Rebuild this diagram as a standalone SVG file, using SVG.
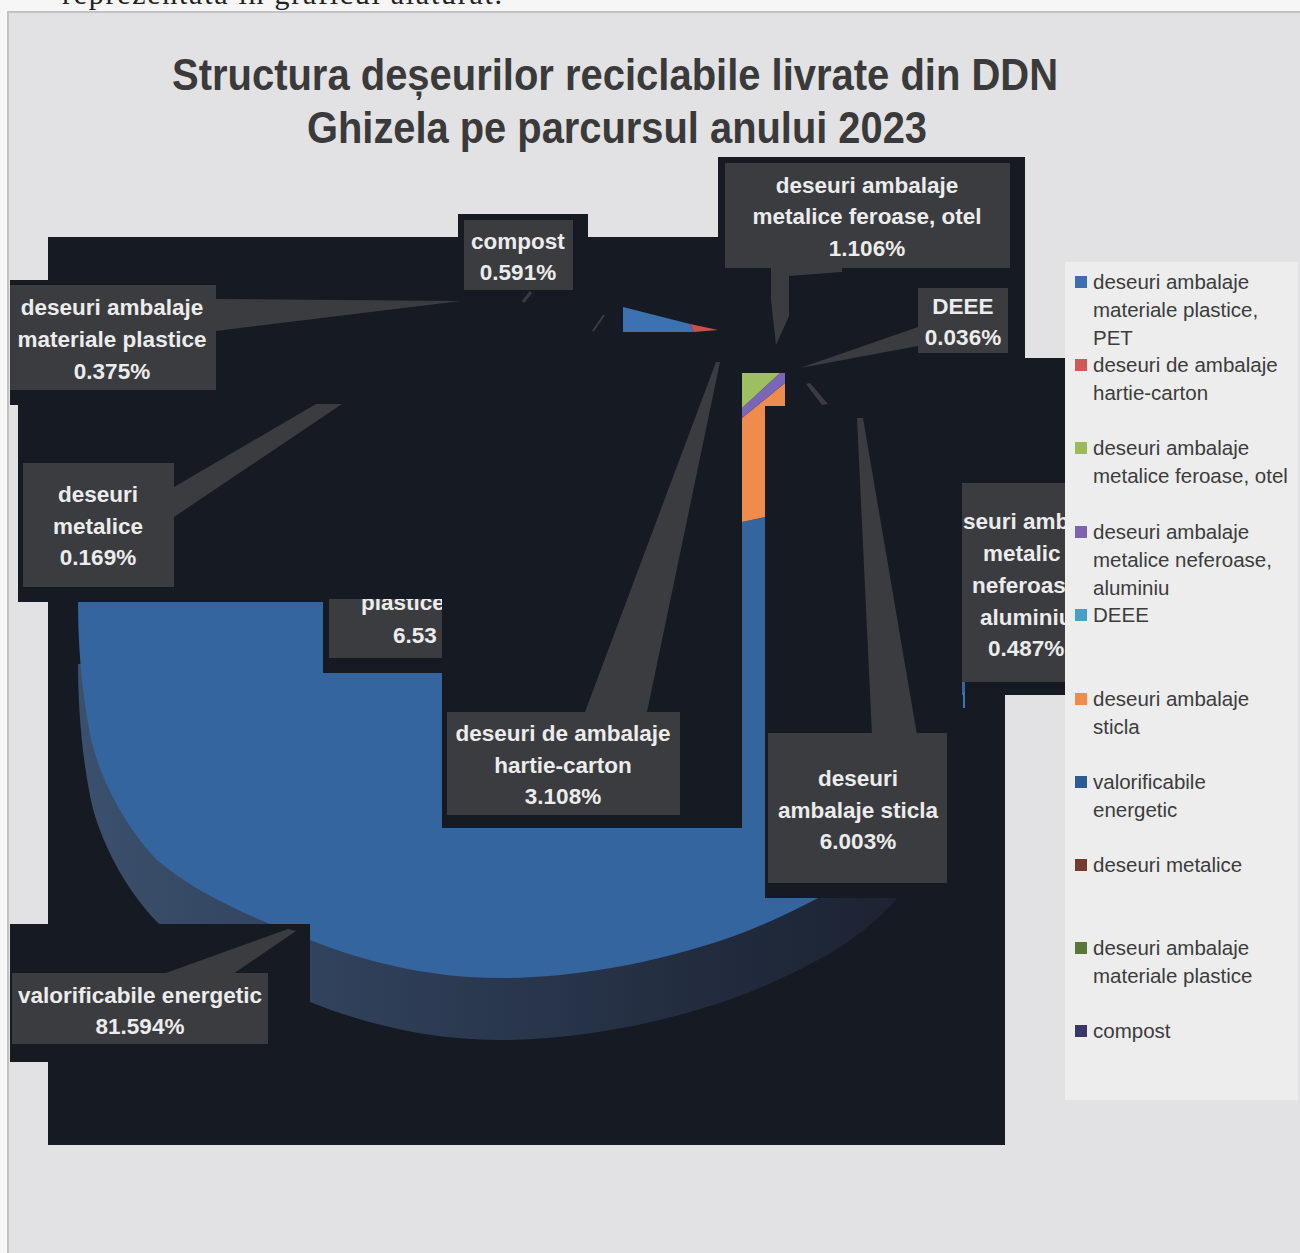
<svg xmlns="http://www.w3.org/2000/svg" width="1300" height="1253" viewBox="0 0 1300 1253">
<style>
.lbl{font-family:"Liberation Sans",Arial,sans-serif;font-weight:bold;font-size:22.5px;fill:#ececec;text-anchor:middle}
.lbs{font-family:"Liberation Sans",Arial,sans-serif;font-weight:bold;font-size:22.5px;fill:#ececec}
.lg{font-family:"Liberation Sans",Arial,sans-serif;font-size:20.5px;fill:#3c3c3c}
.box{fill:#3b3c40}
.dk{fill:#151a23}
.wedge{fill:#3b3c40}
</style>
<defs>
<linearGradient id="band" x1="0" y1="0" x2="1" y2="0">
<stop offset="0" stop-color="#3b506d"/>
<stop offset="0.35" stop-color="#2e3e57"/>
<stop offset="0.7" stop-color="#222c3e"/>
<stop offset="1" stop-color="#1a2130"/>
</linearGradient>
<clipPath id="cpPl"><rect x="329" y="599" width="113" height="59"/></clipPath>
<clipPath id="cpNef"><rect x="962" y="483" width="103" height="199"/></clipPath>
<path id="pieTop" d="M78,602 L965,602 L965,712 C945,790 890,860 820,897 C780,918 740,936 700,947 C640,965 570,978 500,978 C430,978 365,962 310,940 C250,917 195,893 157,860 C130,832 105,790 93,747 C83,705 78,650 78,602 Z"/>
</defs>

<!-- page -->
<rect x="0" y="0" width="1300" height="1253" fill="#f6f6f6"/>
<text x="62" y="4" font-family="'Liberation Serif',serif" font-size="30" fill="#222" textLength="440">reprezentata in graficul alaturat.</text>
<rect x="8" y="12" width="1300" height="1250" fill="#e2e2e4" stroke="#c2c2c4" stroke-width="2"/>

<!-- title -->
<g id="title" font-family="'Liberation Sans',Arial,sans-serif" font-weight="bold" font-size="44" fill="#3a3a3a" text-anchor="middle">
<text x="615" y="90" textLength="886" lengthAdjust="spacingAndGlyphs">Structura deșeurilor reciclabile livrate din DDN</text>
<text x="617" y="143" textLength="620" lengthAdjust="spacingAndGlyphs">Ghizela pe parcursul anului 2023</text>
</g>

<!-- legend -->
<g id="legend">
<rect x="1065" y="262" width="233" height="838" fill="#ededed"/>
<g id="leg-pet"><rect x="1075" y="276" width="12" height="12" fill="#3c6fb0"/><text class="lg" x="1093" y="289">deseuri ambalaje</text><text class="lg" x="1093" y="317">materiale plastice,</text><text class="lg" x="1093" y="345">PET</text></g>
<g id="leg-hartie"><rect x="1075" y="359" width="12" height="12" fill="#cf5a55"/><text class="lg" x="1093" y="372">deseuri de ambalaje</text><text class="lg" x="1093" y="400">hartie-carton</text></g>
<g id="leg-feroase"><rect x="1075" y="442" width="12" height="12" fill="#9bbb59"/><text class="lg" x="1093" y="455">deseuri ambalaje</text><text class="lg" x="1093" y="483">metalice feroase, otel</text></g>
<g id="leg-neferoase"><rect x="1075" y="526" width="12" height="12" fill="#7d62b0"/><text class="lg" x="1093" y="539">deseuri ambalaje</text><text class="lg" x="1093" y="567">metalice neferoase,</text><text class="lg" x="1093" y="595">aluminiu</text></g>
<g id="leg-deee"><rect x="1075" y="609" width="12" height="12" fill="#4aa0c2"/><text class="lg" x="1093" y="622">DEEE</text></g>
<g id="leg-sticla"><rect x="1075" y="693" width="12" height="12" fill="#f08c4a"/><text class="lg" x="1093" y="706">deseuri ambalaje</text><text class="lg" x="1093" y="734">sticla</text></g>
<g id="leg-valorif"><rect x="1075" y="776" width="12" height="12" fill="#2b5c96"/><text class="lg" x="1093" y="789">valorificabile</text><text class="lg" x="1093" y="817">energetic</text></g>
<g id="leg-metalice"><rect x="1075" y="859" width="12" height="12" fill="#773a2e"/><text class="lg" x="1093" y="872">deseuri metalice</text></g>
<g id="leg-plastice"><rect x="1075" y="942" width="12" height="12" fill="#587838"/><text class="lg" x="1093" y="955">deseuri ambalaje</text><text class="lg" x="1093" y="983">materiale plastice</text></g>
<g id="leg-compost"><rect x="1075" y="1025" width="12" height="12" fill="#373868"/><text class="lg" x="1093" y="1038">compost</text></g>
</g>

<!-- plot area (dark) -->
<path class="dk" d="M48,237 L458,237 L458,214 L588,214 L588,237 L718,237 L718,157 L1025,157 L1025,358 L1065,358 L1065,695 L1005,695 L1005,1145 L48,1145 L48,1062 L10,1062 L10,924 L48,924 L48,602 L18,602 L18,405 L10,405 L10,280 L48,280 Z"/>

<!-- pie -->
<g id="pie">
<use href="#pieTop" transform="translate(0,62)" fill="url(#band)"/>
<use href="#pieTop" fill="#34659e"/>
<rect class="dk" x="323" y="598" width="119" height="75"/>
<rect class="dk" x="442" y="598" width="300" height="230"/>
<rect class="dk" x="764" y="598" width="198" height="300"/>
<rect class="dk" x="962" y="695" width="43" height="203"/>
<rect class="dk" x="10" y="924" width="300" height="138"/>
<polygon points="742,522 765,517 765,900 742,900" fill="#34659e"/>
<polygon points="742,418 785,383 785,406 765,406 765,517 742,522" fill="#ef8b4c"/>
<polygon points="780,373 785,373 785,383 742,418 742,408" fill="#7a66b8"/>
<polygon points="742,373 780,373 742,408" fill="#9fbe62"/>
<polygon points="623,307 690,324 694,332 623,332" fill="#3c72b0"/>
<polygon points="690,324 718,330 694,332" fill="#cc5048"/>
<rect x="963" y="692" width="2" height="16" fill="#3c72b0"/>
</g>

<!-- connectors (callout pointers) -->
<g id="connectors">
<polygon class="wedge" points="216,299 461,301 216,331"/>
<polygon class="wedge" points="174,487 316,404 342,404 174,517"/>
<polygon class="wedge" points="771,263 842,263 842,272 789,276 789,316 776,345 771,300"/>
<polygon class="wedge" points="918,327 918,346 800,368"/>
<polygon class="wedge" points="716,362 720,362 647,712 585,712"/>
<polygon class="wedge" points="857,418 863,418 917,735 872,735"/>
<polygon class="wedge" points="163,974 288,929 296,931 233,974"/>
<polygon class="wedge" points="806,384 810,383 828,404 822,405"/>
<line x1="523" y1="302" x2="531" y2="292" stroke="#3b3c40" stroke-width="3"/>
<line x1="593" y1="331" x2="604" y2="315" stroke="#3b3c40" stroke-width="2"/>
</g>

<!-- data labels -->
<g id="lbl-plastice">
<rect class="box" x="10" y="285" width="206" height="105"/>
<text class="lbl" x="112" y="315">deseuri ambalaje</text>
<text class="lbl" x="112" y="347">materiale plastice</text>
<text class="lbl" x="112" y="379">0.375%</text>
</g>
<g id="lbl-compost">
<rect class="box" x="464" y="220" width="109" height="70"/>
<text class="lbl" x="518" y="249">compost</text>
<text class="lbl" x="518" y="280">0.591%</text>
</g>
<g id="lbl-feroase">
<rect class="box" x="725" y="163" width="285" height="105"/>
<text class="lbl" x="867" y="193">deseuri ambalaje</text>
<text class="lbl" x="867" y="224">metalice feroase, otel</text>
<text class="lbl" x="867" y="256">1.106%</text>
</g>
<g id="lbl-deee">
<rect class="box" x="918" y="288" width="90" height="65"/>
<text class="lbl" x="963" y="314">DEEE</text>
<text class="lbl" x="963" y="345">0.036%</text>
</g>
<g id="lbl-metalice">
<rect class="box" x="23" y="463" width="151" height="124"/>
<text class="lbl" x="98" y="502">deseuri</text>
<text class="lbl" x="98" y="534">metalice</text>
<text class="lbl" x="98" y="565">0.169%</text>
</g>
<g id="lbl-pet">
<rect class="box" x="329" y="599" width="113" height="59"/>
<g clip-path="url(#cpPl)">
<text class="lbs" x="361" y="610">plastice</text>
<text class="lbs" x="393" y="643">6.53</text>
</g>
</g>
<g id="lbl-neferoase">
<rect class="box" x="962" y="483" width="103" height="199"/>
<g clip-path="url(#cpNef)">
<text class="lbs" x="963" y="529">seuri amb</text>
<text class="lbs" x="983" y="561">metalic</text>
<text class="lbs" x="972" y="593">neferoas</text>
<text class="lbs" x="980" y="625">aluminiu</text>
<text class="lbs" x="988" y="656">0.487%</text>
</g>
</g>
<g id="lbl-hartie">
<rect class="box" x="447" y="712" width="233" height="103"/>
<text class="lbl" x="563" y="741">deseuri de ambalaje</text>
<text class="lbl" x="563" y="773">hartie-carton</text>
<text class="lbl" x="563" y="804">3.108%</text>
</g>
<g id="lbl-sticla">
<rect class="box" x="768" y="733" width="179" height="150"/>
<text class="lbl" x="858" y="786">deseuri</text>
<text class="lbl" x="858" y="818">ambalaje sticla</text>
<text class="lbl" x="858" y="849">6.003%</text>
</g>
<g id="lbl-valorif">
<rect class="box" x="12" y="973" width="256" height="71"/>
<text class="lbl" x="140" y="1003">valorificabile energetic</text>
<text class="lbl" x="140" y="1034">81.594%</text>
</g>
</svg>
